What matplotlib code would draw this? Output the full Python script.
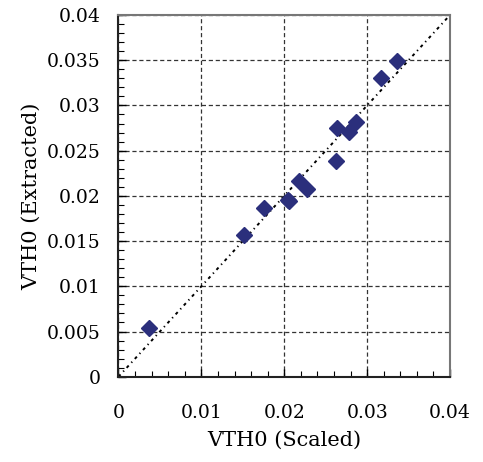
import numpy as np
import matplotlib.pyplot as plt
from matplotlib.ticker import MultipleLocator, FuncFormatter

# --- data ---
vth0_scaled = [0.0037, 0.0151, 0.0175, 0.0204, 0.0206, 0.0218, 0.0228,
               0.0262, 0.0264, 0.0278, 0.0287, 0.0317, 0.0336]
vth0_extracted = [0.0054, 0.0157, 0.0187, 0.0195, 0.0194, 0.0216, 0.0208,
                  0.0239, 0.0275, 0.0271, 0.0282, 0.0330, 0.0349]
ideal = [0.0, 0.04]

plt.rcParams["font.family"] = ["DejaVu Serif"]
plt.rcParams["lines.scale_dashes"] = False

fig = plt.figure(figsize=(4.83, 4.62), dpi=100)
ax = fig.add_axes([0.2453, 0.1846, 0.9317 - 0.2453, 0.9675 - 0.1846])

# y = x reference line
ax.plot(ideal, ideal, color="black", linewidth=1.4,
        linestyle=(0, (2.2, 2.8, 0.9, 2.8)), zorder=2)

ax.plot(vth0_scaled, vth0_extracted, linestyle="none", marker="D",
        markersize=8, color="#2b2f7c", markeredgecolor="#2b2f7c", zorder=3)

ax.set_xlim(0, 0.04)
ax.set_ylim(0, 0.04)
ax.xaxis.set_major_locator(MultipleLocator(0.01))
ax.xaxis.set_minor_locator(MultipleLocator(0.002))
ax.yaxis.set_major_locator(MultipleLocator(0.005))
ax.yaxis.set_minor_locator(MultipleLocator(0.001))

fmt = FuncFormatter(lambda v, p: "0" if abs(v) < 1e-12 else f"{v:.3f}".rstrip("0"))
ax.xaxis.set_major_formatter(fmt)
ax.yaxis.set_major_formatter(fmt)

ax.grid(True, which="major", color="#333333", linestyle=(0, (3, 2)), linewidth=0.9)
ax.set_axisbelow(True)

ax.tick_params(which="both", direction="in", top=False, right=False, colors="black")
ax.tick_params(which="major", length=6, width=1.0, labelsize=13.5)
ax.tick_params(which="minor", length=4, width=0.8)
ax.tick_params(axis="x", which="major", pad=20)
ax.tick_params(axis="y", which="major", pad=13)

for side in ["left", "bottom"]:
    ax.spines[side].set_linewidth(1.5)
    ax.spines[side].set_color("#222222")
for side in ["top", "right"]:
    ax.spines[side].set_linewidth(1.5)
    ax.spines[side].set_color("#777777")

ax.set_xlabel("VTH0 (Scaled)", fontsize=15, labelpad=6)
ax.set_ylabel("VTH0 (Extracted)", fontsize=15, labelpad=4)

fig.savefig("out.png", dpi=100)
